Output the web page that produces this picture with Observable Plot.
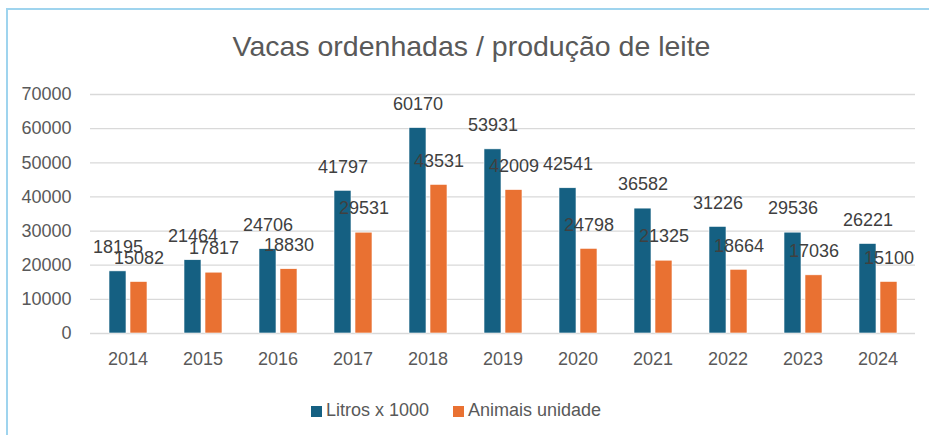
<!DOCTYPE html>
<html>
<head>
<meta charset="utf-8">
<script src="https://cdn.jsdelivr.net/npm/d3@7"></script>
<script src="https://cdn.jsdelivr.net/npm/@observablehq/plot@0.6"></script>
<style>
  html, body { margin: 0; padding: 0; background: #fff; }
  #wrap { position: relative; width: 929px; height: 435px; overflow: hidden; background: #fff; font-family: "Liberation Sans", Arial, sans-serif; }
  #frameTop { position: absolute; left: 6px; top: 8px; width: 923px; height: 2px; background: #9fd4ee; }
  #frameLeft { position: absolute; left: 6px; top: 8px; width: 2px; height: 427px; background: #9fd4ee; }
  #title { position: absolute; left: 0; top: 30px; width: 943px; text-align: center; font-size: 28.5px; line-height: 32px; color: #595959; }
  #chart { position: absolute; left: 0; top: 80px; }
  #legend { position: absolute; left: 0; top: 399px; width: 912px; text-align: center; font-size: 18px; line-height: 22px; color: #595959; }
  .item { display: inline-block; margin: 0 12px; }
  .sw { display: inline-block; width: 11px; height: 11px; margin-right: 4px; vertical-align: -1px; }
</style>
</head>
<body>
<div id="wrap">
  <div id="frameTop"></div>
  <div id="frameLeft"></div>
  <div id="title">Vacas ordenhadas / produção de leite</div>
  <div id="chart"></div>
  <div id="legend"></div>
</div>
<script>
const years = ["2014","2015","2016","2017","2018","2019","2020","2021","2022","2023","2024"];
const litros = [18195, 21464, 24706, 41797, 60170, 53931, 42541, 36582, 31226, 29536, 26221];
const animais = [15082, 17817, 18830, 29531, 43531, 42009, 24798, 21325, 18664, 17036, 15100];
const seriesNames = ["Litros x 1000", "Animais unidade"];
const seriesColors = ["#156082", "#E97132"];
const yTicks = [0, 10000, 20000, 30000, 40000, 50000, 60000, 70000];

const data = [];
years.forEach((yr, i) => {
  data.push({year: yr, series: seriesNames[0], value: litros[i]});
  data.push({year: yr, series: seriesNames[1], value: animais[i]});
});

const chart = Plot.plot({
  width: 929,
  height: 300,
  marginLeft: 86,
  marginRight: 11,
  marginTop: 14,
  marginBottom: 47,
  style: {fontFamily: "'Liberation Sans', Arial, sans-serif", fontSize: "18px", color: "#595959", background: "transparent"},
  fx: {domain: years, padding: 0, axis: "bottom", tickSize: 0, tickPadding: 19, label: null},
  x: {domain: seriesNames, paddingInner: 0.212, paddingOuter: 0.864, axis: null},
  y: {domain: [0, 70000], ticks: yTicks, tickFormat: d => String(d), tickSize: 0, tickPadding: 19, label: null},
  color: {domain: seriesNames, range: seriesColors},
  marks: [
    Plot.ruleY(yTicks, {stroke: "#d9d9d9", strokeWidth: 1.3}),
    Plot.barY(data, {fx: "year", x: "series", y: "value", fill: "series", stroke: "#ffffff", strokeWidth: 0.6}),
    Plot.text(data, {fx: "year", x: "series", y: "value", text: d => String(d.value), dy: -24, fill: "#404040", fontSize: 18})
  ]
});
document.getElementById("chart").appendChild(chart);

const legend = document.getElementById("legend");
seriesNames.forEach((name, i) => {
  const item = document.createElement("span");
  item.className = "item";
  const sw = document.createElement("span");
  sw.className = "sw";
  sw.style.background = seriesColors[i];
  item.appendChild(sw);
  item.appendChild(document.createTextNode(name));
  legend.appendChild(item);
});
</script>
</body>
</html>
